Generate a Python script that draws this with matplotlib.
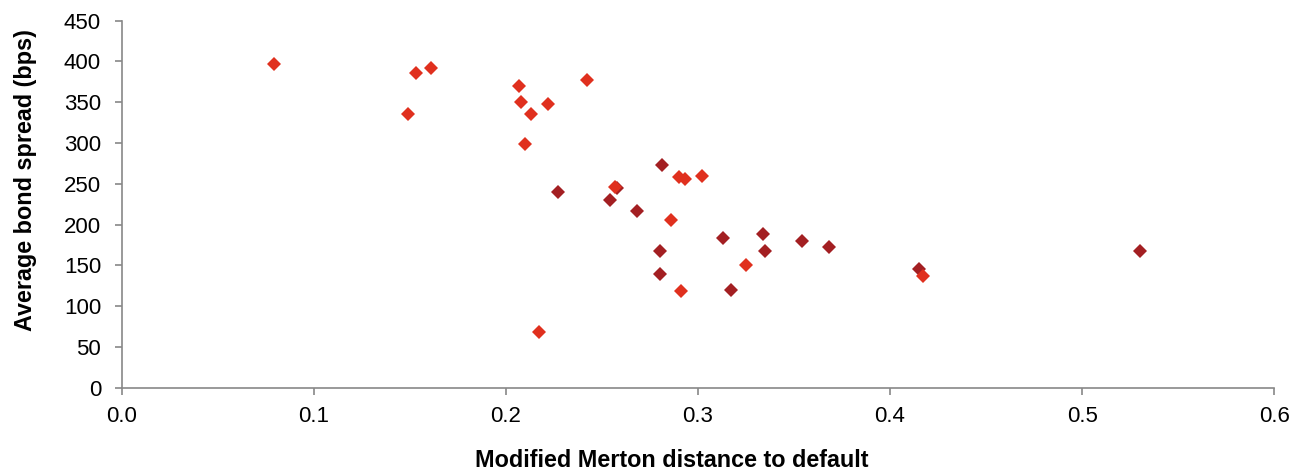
import matplotlib.pyplot as plt

plt.rcParams['font.family'] = ['Liberation Sans', 'DejaVu Sans']

# bright red series
dd_a = [0.079, 0.153, 0.161, 0.149, 0.207, 0.208, 0.213, 0.222, 0.210, 0.242,
        0.217, 0.257, 0.290, 0.293, 0.302, 0.286, 0.291, 0.325, 0.417]
spread_a = [397, 386, 392, 336, 370, 350, 336, 348, 299, 377,
            68, 246, 258, 256, 260, 206, 119, 150, 137]

# dark red series
dd_b = [0.227, 0.258, 0.254, 0.268, 0.281, 0.313, 0.334, 0.335, 0.354, 0.368,
        0.280, 0.280, 0.317, 0.415, 0.530]
spread_b = [240, 245, 230, 217, 273, 184, 188, 168, 180, 173,
            168, 139, 120, 146, 167]

fig = plt.figure(figsize=(12.96, 4.71), dpi=100)
ax = fig.add_axes([0.0941, 0.177, 0.889, 0.779])

ax.plot(dd_b, spread_b, 'D', color='#A31F22', ms=7.5, mew=0, linestyle='none')
ax.plot(dd_a, spread_a, 'D', color='#E0301E', ms=7.5, mew=0, linestyle='none')

ax.set_xlim(0, 0.6)
ax.set_ylim(0, 450)
ax.set_xticks([0.0, 0.1, 0.2, 0.3, 0.4, 0.5, 0.6])
ax.set_xticklabels(['0.0', '0.1', '0.2', '0.3', '0.4', '0.5', '0.6'])
ax.set_yticks(range(0, 451, 50))

for s in ['top', 'right']:
    ax.spines[s].set_visible(False)
for s in ['left', 'bottom']:
    ax.spines[s].set_color('#888888')
    ax.spines[s].set_linewidth(1.2)
ax.tick_params(axis='both', colors='#888888', length=5, width=1.2,
               labelcolor='black', labelsize=16, direction='out')
ax.tick_params(axis='x', pad=8)
ax.tick_params(axis='y', pad=10)

ax.set_xlabel('Modified Merton distance to default', fontsize=16.8,
              fontweight='bold')
ax.set_ylabel('Average bond spread (bps)', fontsize=16.8,
              fontweight='bold')
# labels sit off-centre in the original
ax.xaxis.set_label_coords(0.477, -0.167)
ax.yaxis.set_label_coords(-0.074, 0.566)

fig.savefig('out.png', dpi=100)
